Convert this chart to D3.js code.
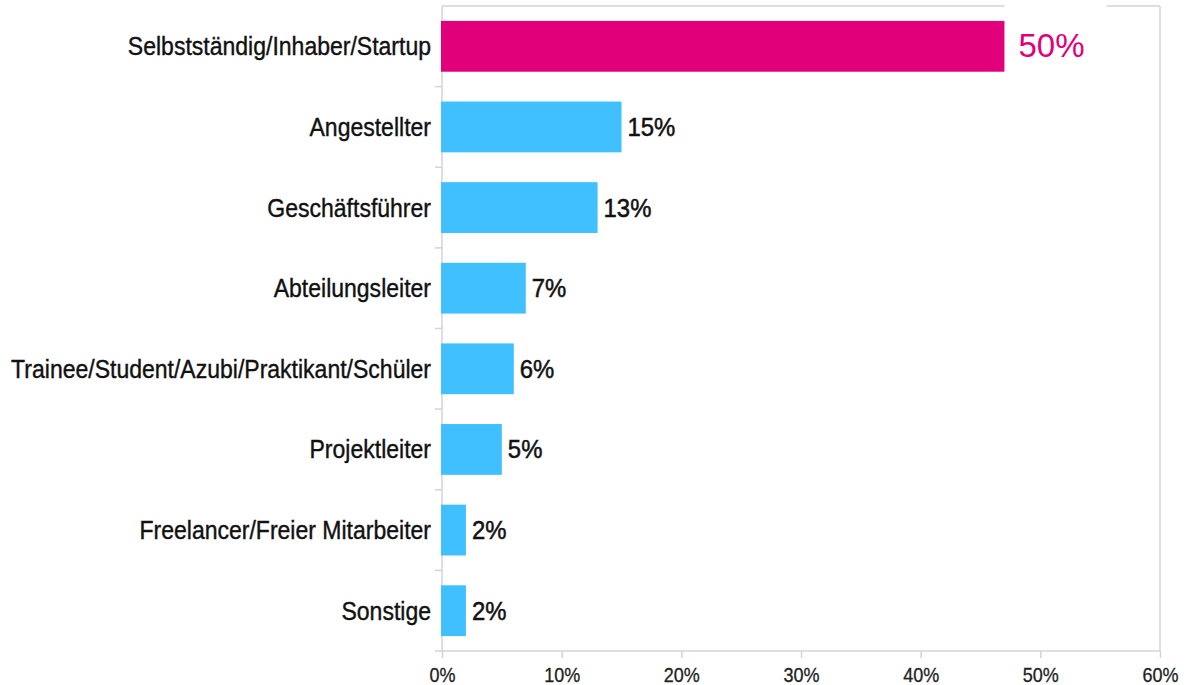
<!DOCTYPE html>
<html>
<head>
<meta charset="utf-8">
<script src="https://cdn.jsdelivr.net/npm/d3@7"></script>
<style>
  body { margin: 0; background: #fff; }
  text { font-family: "Liberation Sans", Arial, Helvetica, sans-serif; }
</style>
</head>
<body>
<svg id="chart" width="1189" height="685"></svg>
<script>
let categories = ["Selbstständig/Inhaber/Startup", "Angestellter", "Geschäftsführer", "Abteilungsleiter",
  "Trainee/Student/Azubi/Praktikant/Schüler", "Projektleiter", "Freelancer/Freier Mitarbeiter", "Sonstige"]
let values = [47, 15, 13, 7, 6, 5, 2, 2]
let valueLabels = ["50%", "15%", "13%", "7%", "6%", "5%", "2%", "2%"]
let ticks = [0, 10, 20, 30, 40, 50, 60]

let plotLeft = 442, plotRight = 1160, plotTop = 6, plotBottom = 651,
  grey = "#d4d4d4",
  squeeze = 0.885

let svg = d3.select("#chart")

let x = d3.scaleLinear()
  .domain([0, 60])
  .range([plotLeft, plotRight])

let y = d3.scaleBand()
  .domain(categories)
  .range([plotTop, plotBottom])
  .paddingInner(0.37)
  .paddingOuter(0.185)

// frame
svg.append("line")
  .attr("x1", plotLeft).attr("x2", plotRight).attr("y1", plotTop).attr("y2", plotTop)
  .attr("stroke", grey).attr("stroke-width", 1.5)
svg.append("line")
  .attr("x1", plotRight).attr("x2", plotRight).attr("y1", plotTop).attr("y2", plotBottom)
  .attr("stroke", grey).attr("stroke-width", 1.5)
svg.append("line")
  .attr("x1", plotLeft).attr("x2", plotLeft).attr("y1", plotTop).attr("y2", plotBottom)
  .attr("stroke", grey).attr("stroke-width", 1.5)
svg.append("line")
  .attr("x1", 435).attr("x2", plotRight).attr("y1", plotBottom).attr("y2", plotBottom)
  .attr("stroke", grey).attr("stroke-width", 1.5)

// category separators on the y axis
let step = y.step()
svg.selectAll("line.sep")
  .data(categories.slice(1)).enter()
  .append("line")
  .attr("class", "sep")
  .attr("x1", 435).attr("x2", plotLeft)
  .attr("y1", d => y(d) - step * y.paddingInner() / 2)
  .attr("y2", d => y(d) - step * y.paddingInner() / 2)
  .attr("stroke", grey).attr("stroke-width", 1.5)

// x axis
let xAxis = svg.append("g")
  .attr("transform", `translate(0,${plotBottom})`)
  .call(d3.axisBottom(x).tickValues(ticks).tickFormat(d => d + "%").tickSize(7).tickSizeOuter(0))
xAxis.select(".domain").remove()
xAxis.selectAll(".tick line").attr("stroke", grey).attr("stroke-width", 1.5)
xAxis.selectAll(".tick text")
  .attr("y", 0).attr("dy", 0)
  .attr("transform", `translate(0,31) scale(0.9,1)`)
  .attr("font-size", 20)
  .attr("fill", "#222")
  .attr("stroke", "#222")
  .attr("stroke-width", 0.3)

// bars
svg.selectAll("rect.bar")
  .data(categories).enter()
  .append("rect")
  .attr("class", "bar")
  .attr("x", x(0) - 1)
  .attr("y", d => y(d))
  .attr("width", (d, i) => x(values[i]) - x(0) + 1)
  .attr("height", y.bandwidth())
  .attr("fill", (d, i) => i == 0 ? "#e2007a" : "#40c0ff")

// category labels
svg.selectAll("text.cat")
  .data(categories).enter()
  .append("text")
  .attr("class", "cat")
  .attr("transform", d => `translate(431,${y(d) + y.bandwidth() / 2 + 9}) scale(${squeeze},1)`)
  .attr("text-anchor", "end")
  .attr("font-size", 26)
  .attr("fill", "#111")
  .attr("stroke", "#111")
  .attr("stroke-width", 0.4)
  .text(d => d)

// value labels
svg.selectAll("text.val")
  .data(categories.slice(1)).enter()
  .append("text")
  .attr("class", "val")
  .attr("transform", (d, i) => `translate(${x(values[i + 1]) + 6},${y(d) + y.bandwidth() / 2 + 9}) scale(0.92,1)`)
  .attr("font-size", 26)
  .attr("fill", "#111")
  .attr("stroke", "#111")
  .attr("stroke-width", 0.5)
  .text((d, i) => valueLabels[i + 1])

// highlighted label on top of the first bar
svg.append("rect")
  .attr("x", x(values[0]))
  .attr("y", 0)
  .attr("width", 102)
  .attr("height", 20)
  .attr("fill", "#fff")
svg.append("text")
  .attr("x", x(values[0]) + 14)
  .attr("y", y(categories[0]) + y.bandwidth() / 2 + 11)
  .attr("font-size", 33)
  .attr("fill", "#e2007a")
  .text(valueLabels[0])
</script>
</body>
</html>
